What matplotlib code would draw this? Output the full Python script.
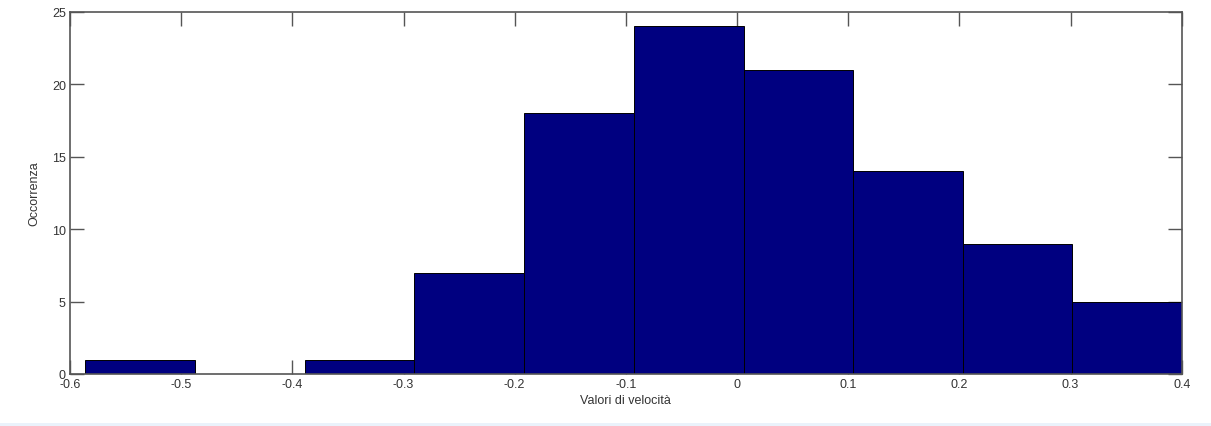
import matplotlib.pyplot as plt
import matplotlib.patches as patches
import numpy as np

# histogram of measured velocities: bin edges and counts
edges = [-0.5865, -0.4878, -0.389, -0.2903, -0.1916, -0.0928,
         0.0059, 0.1047, 0.2034, 0.3017, 0.4]
counts = [1, 0, 1, 7, 18, 24, 21, 14, 9, 5]
xticks = [-0.6, -0.5, -0.4, -0.3, -0.2, -0.1, 0, 0.1, 0.2, 0.3, 0.4]
yticks = [0, 5, 10, 15, 20, 25]

plt.rcParams['font.family'] = ['Liberation Sans', 'DejaVu Sans']

fig = plt.figure(figsize=(12.11, 4.27), dpi=100)
ax = fig.add_axes([0.0578, 0.1218, 0.918, 0.848])

left = np.array(edges[:-1])
widths = np.diff(edges)
ax.bar(left, counts, width=widths, align='edge',
       color='#000080', edgecolor='black', linewidth=0.7)

ax.set_xlim(-0.6, 0.4)
ax.set_ylim(0, 25)
ax.set_xticks(xticks)
ax.set_xticklabels([f'{t:g}' for t in xticks])
ax.set_yticks(yticks)

# box with inward ticks on every side, ticks hidden behind the bars
for s in ax.spines.values():
    s.set_color('#555555')
    s.set_linewidth(1.2)
ax.tick_params(direction='in', top=True, right=True, length=10, width=1,
               color='#555555', labelcolor='#333333', labelsize=9, pad=3)
ax.set_axisbelow(True)

ax.set_xlabel('Valori di velocità', fontsize=9, color='#333333', labelpad=3)
ax.set_ylabel('Occorrenza', fontsize=9, color='#333333', labelpad=8)

# pale strip along the bottom edge
fig.patches.append(patches.Rectangle((0, 0), 1, 3 / 427, transform=fig.transFigure,
                                     facecolor='#eaf2fb', edgecolor='none'))

fig.savefig('out.png', dpi=100)
